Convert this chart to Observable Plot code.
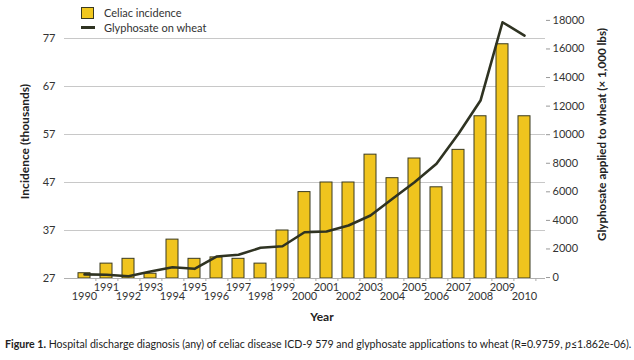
<!DOCTYPE html>
<html>
<head>
<meta charset="utf-8">
<script src="https://cdn.jsdelivr.net/npm/d3@7"></script>
<script src="https://cdn.jsdelivr.net/npm/@observablehq/plot@0.6"></script>
<style>
  html, body { margin: 0; padding: 0; background: #fff; }
  body { width: 634px; height: 360px; overflow: hidden; position: relative; font-family: Lato, "Open Sans", sans-serif; }
  #legend { position: absolute; left: 81px; top: 5px; font-size: 11px; color: #333; line-height: 15px; }
  #legend .row { display: flex; align-items: center; height: 15px; }
  #legend .sw { width: 11px; height: 10px; background: #f2c81e; border: 1px solid #3a3a20; margin-right: 10px; }
  #legend .ln { width: 14px; height: 3px; background: #2f3322; margin-right: 9px; }
  #caption { position: absolute; left: 5px; top: 338px; font-size: 10.6px; color: #222; white-space: nowrap; }
</style>
</head>
<body>
<div id="chart"></div>
<div id="legend">
  <div class="row"><div class="sw"></div><span>Celiac incidence</span></div>
  <div class="row"><div class="ln"></div><span>Glyphosate on wheat</span></div>
</div>
<div id="caption"><b>Figure 1.</b> Hospital discharge diagnosis (any) of celiac disease ICD-9 579 and glyphosate applications to wheat (R=0.9759, <i>p</i>≤1.862e-06).</div>
<script>
const years = [1990,1991,1992,1993,1994,1995,1996,1997,1998,1999,2000,2001,2002,2003,2004,2005,2006,2007,2008,2009,2010];
const celiac = [28.1,30.1,31.1,28.0,35.1,31.1,31.4,31.1,30.1,37.0,45.0,47.0,47.0,52.8,47.9,52.0,46.0,53.8,60.8,75.8,60.8];
const glyphosate = [220,200,90,420,720,610,1470,1590,2080,2190,3170,3220,3640,4340,5510,6670,7960,10060,12390,17870,16940];
const leftTicks = [27,37,47,57,67,77];
const rightTicks = [0,2000,4000,6000,8000,10000,12000,14000,16000,18000];

// map right-axis values (x1,000 lbs) onto the left-axis units
const base = 27.2, factor = 336;
const toLeft = g => base + g / factor;

const bars = years.map((y, i) => ({year: y, value: celiac[i]}));
const line = years.map((y, i) => ({year: y, value: toLeft(glyphosate[i])}));
const oddYears = years.filter(y => y % 2 === 1);
const evenYears = years.filter(y => y % 2 === 0);

const chart = Plot.plot({
  width: 634,
  height: 336,
  marginLeft: 64,
  marginRight: 89,
  marginTop: 14,
  marginBottom: 58,
  style: {fontFamily: "Lato, 'Open Sans', sans-serif", fontSize: "11px", color: "#333", background: "#fff"},
  x: {type: "band", domain: years, paddingInner: 0.45, paddingOuter: 0.3, axis: null},
  y: {domain: [27, 82], axis: null},
  marks: [
    Plot.ruleY(leftTicks.slice(1), {stroke: "#c8c8c8", strokeWidth: 1}),
    Plot.barY(bars, {x: "year", y1: 27, y2: "value", fill: "#f0c41e", stroke: "#3a3a20", strokeWidth: 1}),
    Plot.line(line, {x: "year", y: "value", stroke: "#2f3322", strokeWidth: 2.6, curve: "linear"}),
    Plot.ruleY([27], {stroke: "#b0b0b0", strokeWidth: 1}),
    Plot.axisY(leftTicks, {anchor: "left", tickSize: 0, tickPadding: 9, label: null, fontSize: 11}),
    Plot.axisY(rightTicks.map(toLeft), {anchor: "right", tickSize: 4, tickPadding: 3, stroke: "#999", label: null,
      tickFormat: d => String(Math.round((d - base) * factor / 1000) * 1000), fontSize: 11}),
    Plot.axisX(years, {tickSize: 3, dx: 11.4, stroke: "#aaa", text: null, label: null}),
    Plot.axisX(oddYears, {tickSize: 0, tickPadding: 5, label: null, fontSize: 11, tickFormat: d => String(d)}),
    Plot.axisX(evenYears, {tickSize: 0, tickPadding: 14, label: null, fontSize: 11, tickFormat: d => String(d)}),
    Plot.text(["Incidence (thousands)"], {frameAnchor: "left", textAnchor: "middle", dx: -39, dy: -5, rotate: -90, fontWeight: "bold", fontSize: 12, fill: "#222"}),
    Plot.text(["Glyphosate applied to wheat (× 1,000 lbs)"], {frameAnchor: "right", textAnchor: "middle", dx: 57, dy: -12, rotate: -90, fontWeight: "bold", fontSize: 11.6, fill: "#222"}),
    Plot.text(["Year"], {frameAnchor: "bottom", dx: 17, dy: 42, fontWeight: "bold", fontSize: 12, fill: "#222"})
  ]
});
document.getElementById("chart").appendChild(chart);
</script>
</body>
</html>
